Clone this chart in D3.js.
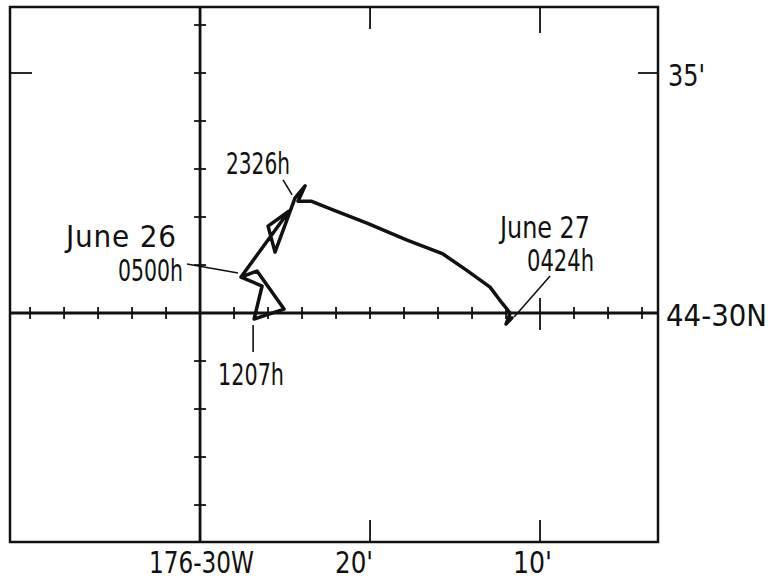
<!DOCTYPE html>
<html><head><meta charset="utf-8">
<script src="https://cdn.jsdelivr.net/npm/d3@7"></script>
<style>html,body{margin:0;padding:0;background:#fff;}svg{display:block;}
text{font-family:"Liberation Sans Narrow","DejaVu Sans Condensed","Liberation Sans",Arial,sans-serif;font-size:31px;fill:#111;}</style>
</head><body>
<svg id="c" width="768" height="583"></svg>
<script>
// Track: longitude minutes west of 176°W, latitude minutes north of 44°N
const trackLon = [27.59,26.65,25.06,26.82,26.35,27.59,24.76,26.00,25.59,24.41,23.82,24.24,23.47,22.18,20.18,17.82,15.71,14.35,12.94,12.24,11.76,12.00,11.65];
const trackLat = [30.75,30.875,30.083,29.875,30.5625,30.75,32.125,31.81,31.27,32.40,32.65,32.33,32.33,32.15,31.875,31.52,31.23,30.90,30.54,30.21,30.00,29.77,29.90];
const lonMinorTicks = [40,38,36,34,32,28,26,24,22,20,18,16,14,12,8,6,4];
const latMinorTicks = [26,27,28,29,31,32,33,34,35,36];
const lonLabelVals = [30,20,10];
const lonLabels = ["176-30W","20'","10'"];
const latLabelVals = [30,35];
const latLabels = ["44-30N","35'"];
const annoTexts = ["June 26","0500h","1207h","2326h","June 27","0424h"];
const annoAnchor = [0,3,9,20]; // track indices for leaders

const svg = d3.select("#c");
const x = d3.scaleLinear().domain([41.18, 3.06]).range([10, 658]);
const y = d3.scaleLinear().domain([25.23, 36.375]).range([542, 7]);
const ink = "#111";

// frame
svg.append("rect").attr("x", x(41.18)).attr("y", y(36.375))
  .attr("width", x(3.06)-x(41.18)).attr("height", y(25.23)-y(36.375))
  .attr("fill","none").attr("stroke",ink).attr("stroke-width",2.5);

// axes lines
svg.append("line").attr("x1",x(30)).attr("x2",x(30)).attr("y1",y(36.375)).attr("y2",y(25.23))
  .attr("stroke",ink).attr("stroke-width",2.8);
svg.append("line").attr("x1",x(41.18)).attr("x2",x(3.06)).attr("y1",y(30)).attr("y2",y(30))
  .attr("stroke",ink).attr("stroke-width",2.8);

// minor ticks on horizontal axis
svg.selectAll(".hx").data(lonMinorTicks).enter().append("line")
  .attr("x1",d=>x(d)).attr("x2",d=>x(d)).attr("y1",y(30)-6).attr("y2",y(30)+6)
  .attr("stroke",ink).attr("stroke-width",1.8);
// long tick at 10'
svg.append("line").attr("x1",x(10)).attr("x2",x(10)).attr("y1",y(30)-15).attr("y2",y(30)+17)
  .attr("stroke",ink).attr("stroke-width",1.8);
// minor ticks on vertical axis
svg.selectAll(".vy").data(latMinorTicks).enter().append("line")
  .attr("x1",x(30)-6).attr("x2",x(30)+6).attr("y1",d=>y(d)).attr("y2",d=>y(d))
  .attr("stroke",ink).attr("stroke-width",1.8);
// frame ticks top/bottom at 20', 10'
[20,10].forEach((v,i)=>{
  svg.append("line").attr("x1",x(v)).attr("x2",x(v)).attr("y1",y(36.375)).attr("y2",y(36.375)+(i?26:22))
    .attr("stroke",ink).attr("stroke-width",1.8);
  svg.append("line").attr("x1",x(v)).attr("x2",x(v)).attr("y1",y(25.23)).attr("y2",y(25.23)-22)
    .attr("stroke",ink).attr("stroke-width",1.8);
});
// frame ticks left/right at 35'
svg.append("line").attr("x1",x(41.18)).attr("x2",x(41.18)+22).attr("y1",y(35)).attr("y2",y(35))
  .attr("stroke",ink).attr("stroke-width",1.8);
svg.append("line").attr("x1",x(3.06)-20).attr("x2",x(3.06)).attr("y1",y(35)).attr("y2",y(35))
  .attr("stroke",ink).attr("stroke-width",1.8);

function label(t, lx, rx, base){
  const el = svg.append("text").attr("x",lx).attr("y",base).text(t);
  const w = el.node().getComputedTextLength();
  el.attr("textLength",rx-lx).attr("lengthAdjust", w <= rx-lx ? "spacing" : "spacingAndGlyphs");
}
// axis labels
const lonLabelBox = [[149,254],[335,373],[513,552]];
lonLabels.forEach((t,i)=>label(t, lonLabelBox[i][0], lonLabelBox[i][1], y(25.23)+31));
const latLabelBox = [[666,767,13],[668,705,13]];
latLabels.forEach((t,i)=>label(t, latLabelBox[i][0], latLabelBox[i][1], y(latLabelVals[i])+latLabelBox[i][2]));

// track
const pts = trackLon.map((d,i)=>[x(d), y(trackLat[i])]);
svg.append("path").attr("d", d3.line()(pts)).attr("fill","none").attr("stroke",ink)
  .attr("stroke-width",3.5).attr("stroke-linejoin","round").attr("stroke-linecap","round");

// annotations
const P = i=>pts[annoAnchor[i]];
const leaders = [
  [P(0)[0]-54,P(0)[1]-13,P(0)[0]-3,P(0)[1]-4],
  [P(1)[0]-1,P(1)[1]+6,P(1)[0]-1,P(1)[1]+33],
  [P(2)[0]-12,P(2)[1]-18,P(2)[0]-3,P(2)[1]-3],
  [P(3)[0]+4,P(3)[1]+4,P(3)[0]+40,P(3)[1]-37]
];
svg.selectAll(".ld").data(leaders).enter().append("line")
  .attr("x1",d=>d[0]).attr("y1",d=>d[1]).attr("x2",d=>d[2]).attr("y2",d=>d[3])
  .attr("stroke",ink).attr("stroke-width",1.6);
label(annoTexts[0], 66, 176, 247);
label(annoTexts[1], 118, 183, 281);
label(annoTexts[2], 218, 284, 385);
label(annoTexts[3], 226, 290, 174);
label(annoTexts[4], 500, 590, 238);
label(annoTexts[5], 527, 594, 271);
</script>
</body></html>
